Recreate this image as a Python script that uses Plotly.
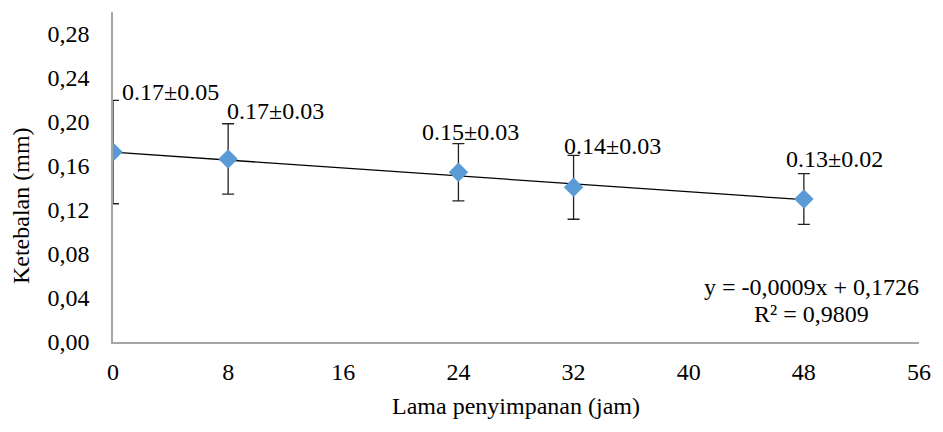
import plotly.graph_objects as go

# Film thickness during storage
hours = [0, 8, 24, 32, 48]
thickness = [0.1727, 0.1664, 0.1543, 0.1406, 0.1300]
thickness_sd = [0.047, 0.032, 0.026, 0.029, 0.023]

# Linear trend reported for the series
slope = -0.0009
intercept = 0.1726
r_squared = 0.9809

# Offsets (px) of the mean ± sd labels from the top of each error bar
label_dx = [57, 47, 12, 39, 31]
label_dy = [8, 13, 12, 9, 15]

y_ticks = [0.00, 0.04, 0.08, 0.12, 0.16, 0.20, 0.24, 0.28]
x_ticks = [0, 8, 16, 24, 32, 40, 48, 56]

FONT = "Times New Roman"
fs = 24

fig = go.Figure()

trend_x = [hours[0], hours[-1]]
trend_y = [slope * x + intercept for x in trend_x]
fig.add_trace(go.Scatter(
    x=trend_x, y=trend_y, mode="lines",
    line=dict(color="black", width=1.3),
    hoverinfo="skip", showlegend=False,
))

fig.add_trace(go.Scatter(
    x=hours, y=thickness, mode="markers",
    marker=dict(symbol="diamond", size=15, color="#5B9BD5"),
    error_y=dict(type="data", array=thickness_sd, visible=True,
                 color="#222222", thickness=1.3, width=6),
    showlegend=False,
))

for x, m, s, dx, dy in zip(hours, thickness, thickness_sd, label_dx, label_dy):
    fig.add_annotation(
        x=x, y=m + s, xref="x", yref="y",
        text=f"{m:.2f}±{s:.2f}", showarrow=False,
        xanchor="center", yanchor="middle", xshift=dx, yshift=dy,
        font=dict(family=FONT, size=fs, color="black"),
    )

# Trend equation and R², drawn as two centred lines
eq_line = f"y = {slope:.4f}x + {intercept:.4f}".replace(".", ",")
r2_line = f"R² = {r_squared:.4f}".replace(".", ",")
for txt, ypos in [(eq_line, 0.050), (r2_line, 0.0255)]:
    fig.add_annotation(
        x=48.5, y=ypos, xref="x", yref="y",
        text=txt, showarrow=False,
        xanchor="center", yanchor="middle",
        font=dict(family=FONT, size=fs, color="black"),
    )

# Vertical axis title, set slightly below the plot's mid-height
fig.add_annotation(
    x=0, y=0.412, xref="paper", yref="paper",
    text="Ketebalan (mm)", textangle=-90, showarrow=False,
    xanchor="center", yanchor="middle", xshift=-92,
    font=dict(family=FONT, size=fs, color="black"),
)

fig.update_layout(
    width=943, height=432,
    margin=dict(l=113, r=15, t=12, b=90),
    paper_bgcolor="white", plot_bgcolor="white",
    separators=",.",
    font=dict(family=FONT, size=fs, color="black"),
    xaxis=dict(
        range=[0, 56], tickvals=x_ticks, showgrid=False, zeroline=False,
        showline=True, linecolor="#A6A6A6", linewidth=1.5,
        ticks="", ticklabelstandoff=7,
        title=dict(text="Lama penyimpanan (jam)", standoff=14,
                   font=dict(family=FONT, size=fs)),
    ),
    yaxis=dict(
        range=[0, 0.30], tickvals=y_ticks, tickformat=".2f",
        showgrid=False, zeroline=False,
        showline=True, linecolor="#A6A6A6", linewidth=1.5,
        ticks="", ticklabelstandoff=17,
    ),
)

fig.write_html("out.html")
